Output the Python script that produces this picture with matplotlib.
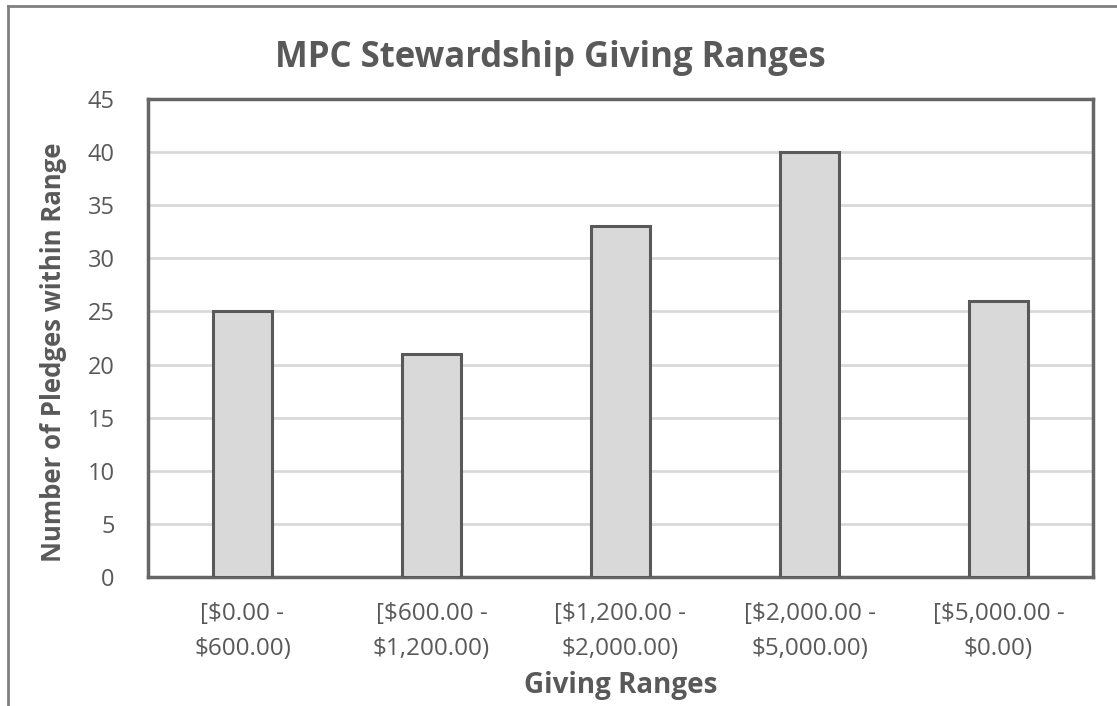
import matplotlib
matplotlib.use("Agg")
import matplotlib.pyplot as plt
from matplotlib.lines import Line2D

categories = ["[$0.00 -\n$600.00)", "[$600.00 -\n$1,200.00)", "[$1,200.00 -\n$2,000.00)",
              "[$2,000.00 -\n$5,000.00)", "[$5,000.00 -\n$0.00)"]
counts = [25, 21, 33, 40, 26]
yticks = [0, 5, 10, 15, 20, 25, 30, 35, 40, 45]

plt.rcParams['font.family'] = ['Open Sans', 'DejaVu Sans']
txt = '#595959'
edge = '#595959'

W, H = 1117, 706
fig = plt.figure(figsize=(W/100, H/100), dpi=100)
L, R, T, B = 148, 1093, 99, 577
ax = fig.add_axes([L/W, 1-B/H, (R-L)/W, (B-T)/H])

x = range(len(categories))
ax.bar(x, counts, width=0.31, color='#d9d9d9', edgecolor=edge, linewidth=2.2, zorder=3)
ax.set_xlim(-0.5, len(categories)-0.5)
ax.set_ylim(0, 45)
ax.set_yticks(yticks)
ax.set_xticks(list(x))
ax.set_xticklabels(categories, fontsize=17.5, color=txt, linespacing=1.62)
ax.tick_params(axis='y', labelsize=17, labelcolor=txt, length=0, pad=24)
ax.tick_params(axis='x', length=0, pad=18)
ax.yaxis.grid(True, color='#d9d9d9', linewidth=2, zorder=0)
ax.set_axisbelow(True)
for s in ax.spines.values():
    s.set_color('#666666')
    s.set_linewidth(2.5)

ax.set_xlabel('Giving Ranges', fontsize=20, fontweight='bold', color=txt)
ax.xaxis.label.set_va('baseline')
ax.xaxis.set_label_coords(0.5, (B-693)/(B-T))
ax.set_ylabel('Number of Pledges within Range', fontsize=18.5, fontweight='bold', color=txt)
ax.yaxis.label.set_va('center')
ax.yaxis.set_label_coords((54-L)/(R-L), (B-352)/(B-T))
fig.text(550/W, 1-67/H, 'MPC Stewardship Giving Ranges', fontsize=25, fontweight='bold',
         color=txt, ha='center', va='baseline')

# outer chart border (partially visible)
fig.add_artist(Line2D([8/W, 8/W], [0, 1-6/H], transform=fig.transFigure, color='#808080', lw=2))
fig.add_artist(Line2D([8/W, 1], [1-6/H, 1-6/H], transform=fig.transFigure, color='#808080', lw=2))

fig.savefig('out.png', dpi=100)
